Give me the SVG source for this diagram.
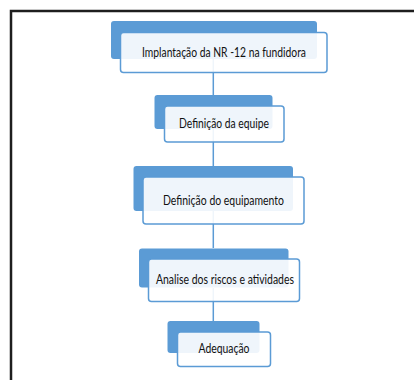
<svg xmlns="http://www.w3.org/2000/svg" width="414" height="380" viewBox="0 0 414 380">
<style>
.bk{fill:#5B9BD5;}
.fr{fill:#ffffff;fill-opacity:0.9;stroke:#5B9BD5;stroke-width:1.5;}
.t{font-family:Lato,"Liberation Sans",sans-serif;font-size:13px;fill:#111111;text-anchor:middle;}
.c{stroke:#5B9BD5;stroke-width:1.5;fill:none;}
</style>
<rect x="0" y="0" width="414" height="380" fill="#ffffff"/>
<rect x="11" y="11" width="430" height="400" fill="none" stroke="#1e1e1e" stroke-width="2.5"/>
<g id="connectors">
<line class="c" x1="213.3" y1="59" x2="213.3" y2="95"/>
<line class="c" x1="213.3" y1="129" x2="213.3" y2="166"/>
<line class="c" x1="213.3" y1="211" x2="213.3" y2="248"/>
<line class="c" x1="213.3" y1="288" x2="213.3" y2="321"/>
</g>
<g id="n1">
<rect class="bk" x="111" y="21" width="206" height="38" rx="3"/>
<rect class="fr" x="120.5" y="32.5" width="206.5" height="40" rx="3"/>
<text class="t" x="224" y="57.3" textLength="164" lengthAdjust="spacingAndGlyphs">Implantação da NR -12 na fundidora</text>
</g>
<g id="n2">
<rect class="bk" x="154.5" y="95" width="118" height="34" rx="3"/>
<rect class="fr" x="164.5" y="106" width="119.5" height="36" rx="3"/>
<text class="t" x="224" y="128.3" textLength="90" lengthAdjust="spacingAndGlyphs">Definição da equipe</text>
</g>
<g id="n3">
<rect class="bk" x="133.5" y="166" width="159.5" height="45" rx="3"/>
<rect class="fr" x="143" y="177" width="161" height="47" rx="3"/>
<text class="t" x="223.5" y="204.8" textLength="121" lengthAdjust="spacingAndGlyphs">Definição do equipamento</text>
</g>
<g id="n4">
<rect class="bk" x="139" y="248.5" width="149.5" height="39" rx="3"/>
<rect class="fr" x="148.5" y="259" width="151" height="42.5" rx="3"/>
<text class="t" x="225" y="283.8" textLength="138" lengthAdjust="spacingAndGlyphs">Analise dos riscos e atividades</text>
</g>
<g id="n5">
<rect class="bk" x="167.5" y="321" width="92" height="32" rx="3"/>
<rect class="fr" x="177.5" y="332" width="93" height="34.5" rx="3"/>
<text class="t" x="224" y="352.8" textLength="51" lengthAdjust="spacingAndGlyphs">Adequação</text>
</g>
</svg>
